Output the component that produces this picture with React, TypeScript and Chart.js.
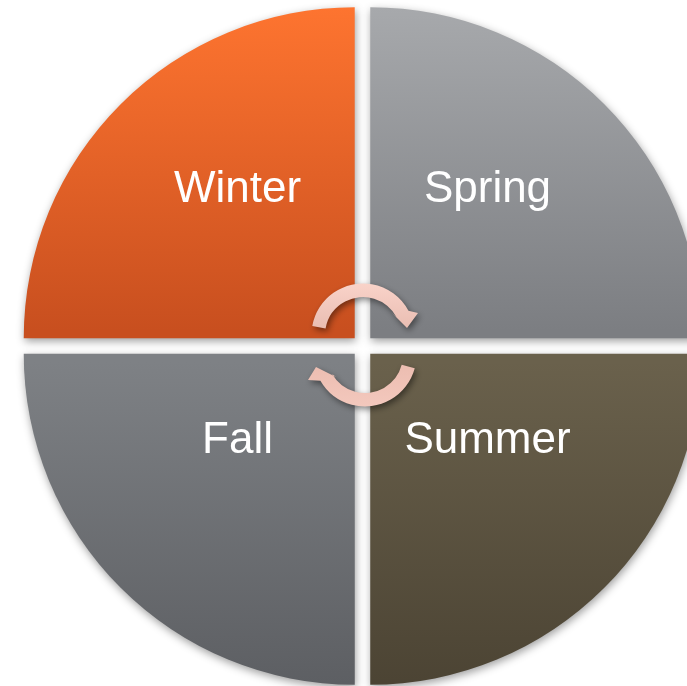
import React, { useEffect, useRef } from "react";
import { Chart, registerables } from "chart.js";

Chart.register(...registerables);

// ---- data ----
const seasons = ["Winter", "Spring", "Summer", "Fall"];
const shares = [25, 25, 25, 25];

// ---- styles ----
const topColors = ["#FF7530", "#A8AAAD", "#6A614C", "#7E8185"];
const bottomColors = ["#C84F1F", "#7C7E82", "#4B4333", "#5C5E62"];

const RADIUS = 331;
const OFFSET = 44; // Chart.js translates arcs by offset / 4

function midAngle(i: number) {
  const total = shares.reduce((a, b) => a + b, 0);
  let before = 0;
  for (let k = 0; k < i; k++) before += shares[k];
  const start = -Math.PI + (before / total) * 2 * Math.PI;
  return start + (shares[i] / total) * Math.PI;
}

const quadrantPlugin = {
  id: "quadrantDeco",
  beforeDatasetsDraw(chart: any) {
    const ctx = chart.ctx;
    ctx.save();
    ctx.shadowColor = "rgba(0,0,0,0.38)";
    ctx.shadowBlur = 8;
    ctx.shadowOffsetX = 1;
    ctx.shadowOffsetY = 3;
  },
  afterDatasetsDraw(chart: any) {
    const ctx = chart.ctx;
    ctx.restore();
    const meta = chart.getDatasetMeta(0);
    if (!meta.data.length) return;
    const cx = meta.data[0].x;
    const cy = meta.data[0].y;

    // labels
    ctx.save();
    ctx.fillStyle = "#FFFFFF";
    ctx.font = '44px "Liberation Sans", Arial, sans-serif';
    ctx.textAlign = "center";
    ctx.textBaseline = "alphabetic";
    meta.data.forEach((el: any, i: number) => {
      const mid = (el.startAngle + el.endAngle) / 2;
      const sx = Math.cos(mid) > 0 ? 1 : -1;
      const sy = Math.sin(mid) > 0 ? 1 : -1;
      const x = cx + sx * 125;
      const y = sy < 0 ? cy - 144 : cy + 107;
      ctx.fillText(chart.data.labels[i], x, y);
    });
    ctx.restore();

    // circular arrows
    const deg = (d: number) => (d * Math.PI) / 180;
    const ro = 51.5;
    const ri = 38;
    const drawArrow = (
      ax: number,
      ay: number,
      a1: number,
      a2: number,
      head: number[][],
      c1: string,
      c2: string
    ) => {
      ctx.save();
      ctx.shadowColor = "rgba(0,0,0,0.45)";
      ctx.shadowBlur = 6;
      ctx.shadowOffsetX = 2;
      ctx.shadowOffsetY = 3;
      const g = ctx.createLinearGradient(0, ay - ro, 0, ay + ro);
      g.addColorStop(0, c1);
      g.addColorStop(1, c2);
      ctx.fillStyle = g;
      ctx.beginPath();
      ctx.arc(ax, ay, ro, deg(a1), deg(a2), false);
      head.forEach((p) => ctx.lineTo(ax + p[0], ay + p[1]));
      ctx.lineTo(ax + ri * Math.cos(deg(a2)), ay + ri * Math.sin(deg(a2)));
      ctx.arc(ax, ay, ri, deg(a2), deg(a1), true);
      ctx.closePath();
      ctx.fill();
      ctx.restore();
    };
    // top arrow (clockwise, head on the right pointing down)
    drawArrow(
      cx + 0.5,
      cy - 11,
      190,
      332,
      [
        [55, -22],
        [44, -7],
        [28, -23],
      ],
      "#F9D3C9",
      "#D5A194"
    );
    // bottom arrow (clockwise, head on the left pointing up)
    drawArrow(
      cx + 2.5,
      cy + 9,
      15,
      150,
      [
        [-57, 25],
        [-49, 12],
        [-29, 22],
      ],
      "#E2AD9F",
      "#F3C8BD"
    );
  },
};

export default function App() {
  const ref = useRef<HTMLCanvasElement | null>(null);

  useEffect(() => {
    if (!ref.current) return;
    const chart = new Chart(ref.current, {
      type: "pie",
      data: {
        labels: seasons,
        datasets: [
          {
            data: shares,
            borderWidth: 0,
            offset: OFFSET,
            backgroundColor: (c: any) => {
              const chart = c.chart;
              const area = chart.chartArea;
              const i = c.dataIndex ?? 0;
              if (!area) return topColors[i];
              const cy = (area.top + area.bottom) / 2;
              const top = Math.sin(midAngle(i)) < 0;
              const y0 = top ? cy - RADIUS - 8 : cy + 8;
              const y1 = top ? cy - 8 : cy + RADIUS + 8;
              const g = chart.ctx.createLinearGradient(0, y0, 0, y1);
              g.addColorStop(0, topColors[i]);
              g.addColorStop(1, bottomColors[i]);
              return g;
            },
          } as any,
        ],
      },
      options: {
        responsive: false,
        animation: false,
        events: [],
        rotation: -90,
        radius: RADIUS,
        layout: { padding: 0 },
        plugins: {
          legend: { display: false },
          tooltip: { enabled: false },
        },
      } as any,
      plugins: [quadrantPlugin],
    });
    return () => chart.destroy();
  }, []);

  return (
    <div
      style={{
        position: "absolute",
        left: 0,
        top: 0,
        width: 687,
        height: 686,
        overflow: "hidden",
        background: "#FFFFFF",
      }}
    >
      <canvas ref={ref} width={725} height={692} style={{ display: "block" }} />
    </div>
  );
}
